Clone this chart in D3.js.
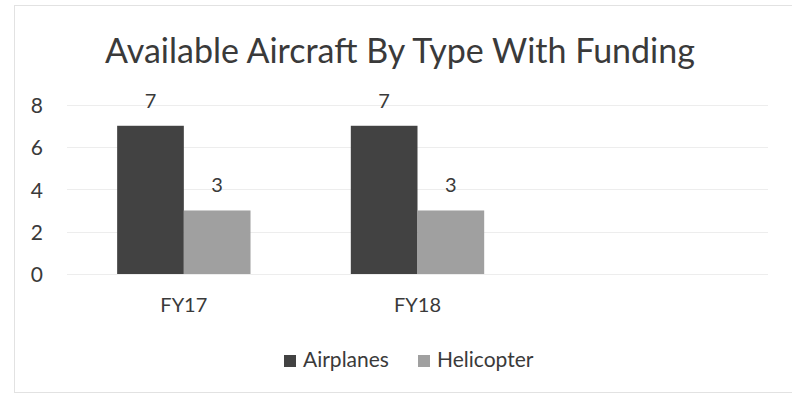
<!DOCTYPE html>
<html>
<head>
<meta charset="utf-8">
<script src="https://cdn.jsdelivr.net/npm/d3@7"></script>
<style>
  html, body { margin: 0; padding: 0; background: #fff; }
  svg { display: block; }
  text { font-family: Lato, "Open Sans", sans-serif; fill: #3a3a3a; }
</style>
</head>
<body>
<svg id="chart" width="792" height="396"></svg>
<script>
const title = "Available Aircraft By Type With Funding";
const categories = ["FY17", "FY18", ""];
const seriesNames = ["Airplanes", "Helicopter"];
const airplanes = [7, 7, null];
const helicopter = [3, 3, null];
const yTicks = [0, 2, 4, 6, 8];
const colors = ["#424242", "#a0a0a0"];

const svg = d3.select("#chart");

// faint chart border
svg.append("rect").attr("x", 14.5).attr("y", 5.5).attr("width", 790).attr("height", 387)
  .attr("fill", "none").attr("stroke", "#e2e2e2").attr("stroke-width", 1);

const plotLeft = 67, plotRight = 768;
const x = d3.scaleBand().domain(categories).range([plotLeft, plotRight]).paddingInner(0).paddingOuter(0);
const xSub = d3.scaleBand().domain(seriesNames).range([0, x.bandwidth()]).paddingInner(0).paddingOuter(0.752);
const y = d3.scaleLinear().domain([0, 8]).range([274, 104.6]);

// gridlines
svg.append("g").selectAll("line").data(yTicks).join("line")
  .attr("x1", plotLeft).attr("x2", plotRight)
  .attr("y1", d => Math.round(y(d)) + 0.5).attr("y2", d => Math.round(y(d)) + 0.5)
  .attr("stroke", "#ededed").attr("stroke-width", 1);

const ff = "Lato, 'Open Sans', sans-serif";

// y axis labels
const yAxis = d3.axisLeft(y).tickValues(yTicks).tickSize(0).tickPadding(0);
const yg = svg.append("g").attr("transform", "translate(43,1)").call(yAxis);
yg.select(".domain").remove();
yg.selectAll("text").style("font-size", "21px").style("fill", "#3a3a3a").style("font-family", ff);

// x axis labels
const xAxis = d3.axisBottom(x).tickSize(0).tickPadding(0);
const xg = svg.append("g").attr("transform", "translate(0,298)").call(xAxis);
xg.select(".domain").remove();
xg.selectAll("text").style("font-size", "20px").style("fill", "#3a3a3a").style("font-family", ff);

// bars
const rows = categories.map((c, i) => ({ cat: c, vals: [airplanes[i], helicopter[i]] }));
const groups = svg.append("g").selectAll("g").data(rows).join("g")
  .attr("transform", d => `translate(${x(d.cat)},0)`);
const bars = groups.selectAll("g.bar")
  .data(d => seriesNames.map((s, j) => ({ s, j, v: d.vals[j] })).filter(e => e.v != null))
  .join("g").attr("class", "bar");
bars.append("rect")
  .attr("x", d => xSub(d.s)).attr("width", xSub.bandwidth())
  .attr("y", d => y(d.v)).attr("height", d => y(0) - y(d.v))
  .attr("fill", d => colors[d.j]);
bars.append("text")
  .attr("x", d => xSub(d.s) + xSub.bandwidth() / 2)
  .attr("y", d => y(d.v) - 18)
  .attr("text-anchor", "middle").style("font-size", "20px")
  .text(d => d.v);

// title
const t = svg.append("text").attr("x", 400).attr("y", 63).attr("text-anchor", "middle")
  .style("font-size", "29px").text(title);
const tw = t.node().getComputedTextLength();
t.style("font-size", (29 * 590 / tw).toFixed(2) + "px");

// legend
const legendX = [284, 418];
const lg = svg.append("g").selectAll("g").data(seriesNames).join("g")
  .attr("transform", (d, i) => `translate(${legendX[i]},355)`);
lg.append("rect").attr("width", 12).attr("height", 12).attr("fill", (d, i) => colors[i]);
lg.append("text").attr("x", 19).attr("y", 11.5).style("font-size", "21px").text(d => d);
</script>
</body>
</html>
